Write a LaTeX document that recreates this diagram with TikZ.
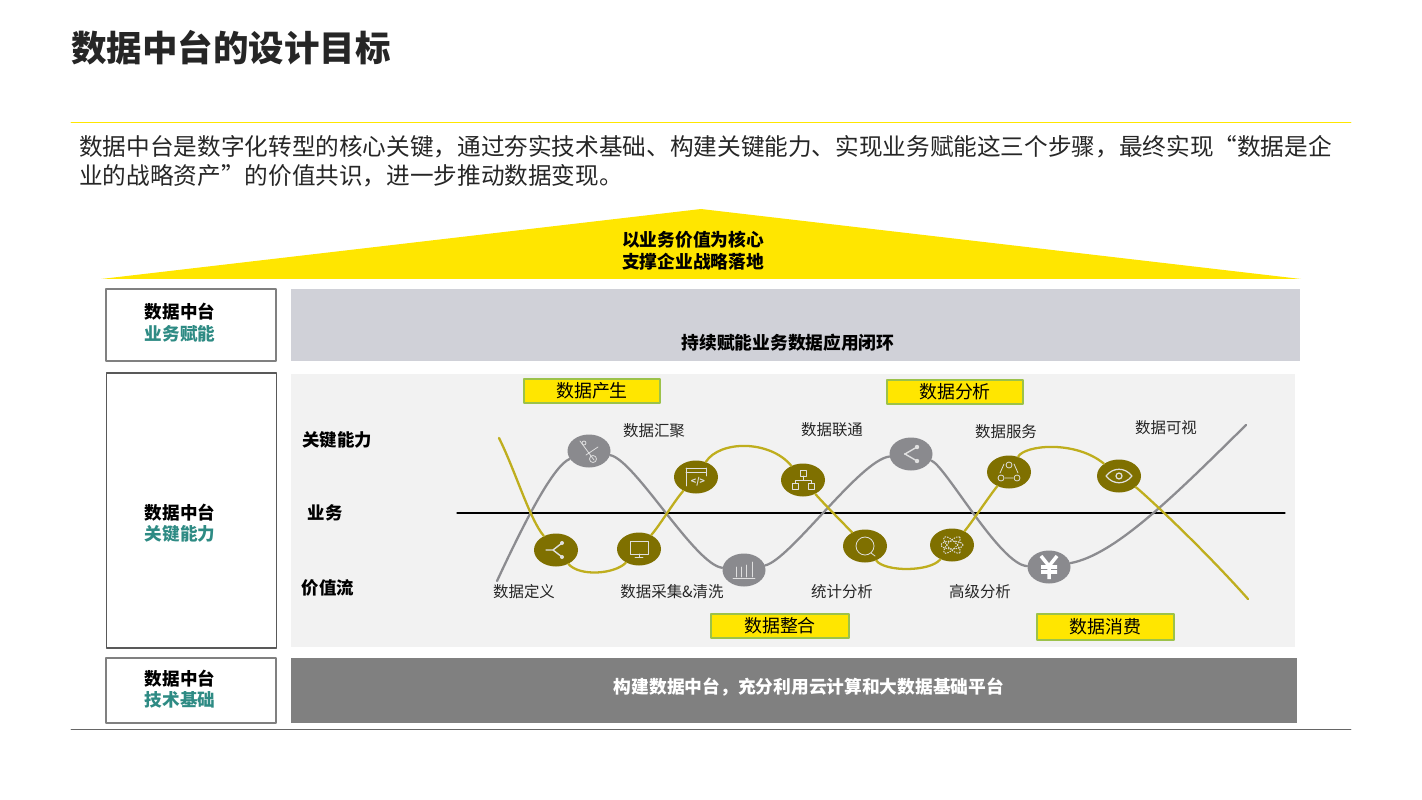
\documentclass[tikz,border=0pt]{standalone}
\usepackage{fontspec}
\setmainfont{Noto Sans CJK SC}
\usetikzlibrary{shapes.geometric}
\newcommand{\unitpx}{0.02cm}
\definecolor{eyyellow}{HTML}{FFE600}
\definecolor{tagborder}{HTML}{9CC24A}
\definecolor{olivecurve}{HTML}{BFAE1E}
\definecolor{olivedot}{HTML}{7F7000}
\definecolor{graycurve}{HTML}{8C8C90}
\definecolor{graydot}{HTML}{8A8A8E}
\definecolor{tealtext}{HTML}{2E8B84}
\definecolor{panelgray}{HTML}{D0D1D8}
\tikzset{
  sidebox/.style={draw=black!50, line width=1.1pt, fill=white, minimum width=170*\unitpx},
  sidetext/.style={align=center, inner sep=0pt, font=\fontsize{10}{12.2}\selectfont\bfseries},
  tagbox/.style={draw=tagborder, line width=0.6pt, fill=eyyellow, minimum width=136*\unitpx, minimum height=24*\unitpx, inner sep=0pt, font=\fontsize{10.2}{12}\selectfont},
  dotgray/.style={ellipse, fill=graydot, minimum width=43*\unitpx, minimum height=33*\unitpx, inner sep=0pt},
  dotolive/.style={ellipse, fill=olivedot, minimum width=44*\unitpx, minimum height=33*\unitpx, inner sep=0pt},
  steplabel/.style={inner sep=0pt, font=\fontsize{8.8}{10}\selectfont, text=black!85},
  rowlabel/.style={inner sep=0pt, font=\fontsize{9.9}{12}\selectfont\bfseries},
  bodyline/.style={anchor=west, inner sep=0pt, font=\fontsize{13.45}{16}\selectfont, text=black!85},
  ycurve/.style={draw=olivecurve, line width=1.3pt},
  gcurve/.style={draw=graycurve, line width=1.3pt},
  glyph/.style={draw=white!88!black, line width=0.45pt, line cap=round, line join=round},
}
\begin{document}
\begin{tikzpicture}[x=\unitpx, y=-\unitpx, line join=round, line cap=round]
\useasboundingbox (0,0) rectangle (1422,800);
% heading
\node (title) [anchor=west, inner sep=0pt, font=\fontsize{20.2}{24}\selectfont\bfseries, text=black!85] at (71,48) {数据中台的设计目标};
\coordinate (ruleL) at (71,122);
\coordinate (ruleR) at (1351,122);
\draw[eyyellow, line width=0.45pt] (ruleL) -- (ruleR);
\node (intro1) [bodyline] at (79,147) {数据中台是数字化转型的核心关键，通过夯实技术基础、构建关键能力、实现业务赋能这三个步骤，最终实现“数据是企};
\node (intro2) [bodyline] at (79,176) {业的战略资产”的价值共识，进一步推动数据变现。};
% roof
\fill[eyyellow] (101,279) -- (701,209) -- (1301,279) -- cycle;
\node (roof) [align=center, inner sep=0pt, font=\fontsize{10.1}{12.5}\selectfont\bfseries] at (693,251) {以业务价值为核心\\支撑企业战略落地};
% left column
\node (sideA) [sidebox, minimum height=72*\unitpx] at (191,325) {};
\node (sideB) [sidebox, line width=0.7pt, draw=black!65, minimum height=275*\unitpx] at (191.5,510.5) {};
\node (sideC) [sidebox, minimum height=65*\unitpx] at (191,690.5) {};
\node (sideAtxt) [sidetext] at (180,322.5) {数据中台\\{\color{tealtext}业务赋能}};
\node (sideBtxt) [sidetext] at (180,523) {数据中台\\{\color{tealtext}关键能力}};
\node (sideCtxt) [sidetext] at (180,689) {数据中台\\{\color{tealtext}技术基础}};
% panels
\node (panelA) [fill=panelgray, minimum width=1009*\unitpx, minimum height=72*\unitpx, inner sep=0pt] at (795.5,325) {};
\node (panelAtxt) [inner sep=0pt, font=\fontsize{10.1}{12}\selectfont\bfseries] at (788,343) {持续赋能业务数据应用闭环};
\node (panelB) [fill=black!5, minimum width=1004*\unitpx, minimum height=273*\unitpx, inner sep=0pt] at (793,510.5) {};
\node (panelC) [fill=black!50, minimum width=1006*\unitpx, minimum height=65*\unitpx, inner sep=0pt] at (794,690.5) {};
\node (panelCtxt) [inner sep=0pt, text=white, font=\fontsize{10.1}{12}\selectfont\bfseries] at (809,687) {构建数据中台，充分利用云计算和大数据基础平台};
\coordinate (baseL) at (71,729);
\coordinate (baseR) at (1351,729);
\draw[black!60, line width=0.45pt] (baseL) -- (baseR);
% row labels
\node (rowKey) [rowlabel] at (337,440) {关键能力};
\node (rowBiz) [rowlabel] at (325,513) {业务};
\node (rowVal) [rowlabel] at (328,588) {价值流};
% axis
\coordinate (axisL) at (457,513);
\coordinate (axisR) at (1285,513);
\draw[black, line width=0.6pt] (axisL) -- (axisR);
% tags
\node (tagMake) [tagbox] at (592,391) {数据产生};
\node (tagAna) [tagbox] at (955,392) {数据分析};
\node (tagJoin) [tagbox, minimum width=138*\unitpx] at (780,626) {数据整合};
\node (tagUse) [tagbox, minimum width=137*\unitpx, minimum height=26*\unitpx] at (1105.5,627) {数据消费};
% step dots
\node (gA) [dotgray] at (589,451) {};
\node (gB) [dotgray] at (744,570) {};
\node (gC) [dotgray] at (911,454) {};
\node (gD) [dotgray] at (1049,567) {};
\node (yA) [dotolive] at (556,550) {};
\node (yB) [dotolive] at (639,549) {};
\node (yC) [dotolive] at (696,477) {};
\node (yD) [dotolive] at (803,480) {};
\node (yE) [dotolive] at (865,546) {};
\node (yF) [dotolive] at (952,545) {};
\node (yG) [dotolive] at (1009,472) {};
\node (yH) [dotolive] at (1119,476) {};
\coordinate (gStart) at (497,581);
\coordinate (gEnd) at (1246,425);
\coordinate (yStart) at (499,438);
\coordinate (yEnd) at (1248,599);
% value curves
\draw[gcurve] (gStart) .. controls (530,510) and (555,465) .. (gA);
\draw[gcurve] (gA) .. controls (635,460) and (695,565) .. (gB);
\draw[gcurve] (gB) .. controls (790,560) and (860,460) .. (gC);
\draw[gcurve] (gC) .. controls (945,465) and (1000,565) .. (gD);
\draw[gcurve] (gD) .. controls (1115,555) and (1175,495) .. (gEnd);
\draw[ycurve] (yStart) .. controls (515,470) and (530,520) .. (yA);
\draw[ycurve] (yA) .. controls (580,577) and (615,574) .. (yB);
\draw[ycurve] (yB) .. controls (660,525) and (675,500) .. (yC);
\draw[ycurve] (yC) .. controls (720,440) and (770,440) .. (yD);
\draw[ycurve] (yD) .. controls (825,505) and (845,525) .. (yE);
\draw[ycurve] (yE) .. controls (885,572) and (930,572) .. (yF);
\draw[ycurve] (yF) .. controls (970,525) and (990,495) .. (yG);
\draw[ycurve] (yG) .. controls (1025,445) and (1075,440) .. (yH);
\draw[ycurve] (yH) .. controls (1140,490) and (1200,545) .. (yEnd);
% step labels
\node (lbDefine) [steplabel] at (524,592) {数据定义};
\node (lbGather) [steplabel] at (654,431) {数据汇聚};
\node (lbClean) [steplabel] at (672,592) {数据采集\&清洗};
\node (lbLink) [steplabel] at (832,430) {数据联通};
\node (lbStat) [steplabel] at (842,592) {统计分析};
\node (lbServe) [steplabel] at (1006,432) {数据服务};
\node (lbAdv) [steplabel] at (980,592) {高级分析};
\node (lbView) [steplabel] at (1166,428) {数据可视};
% icons
\begin{scope}[shift={(gA)}]
  \draw[glyph] (-9,-10) -- (5,9) (9,-4) -- (-3,4);
  \draw[glyph] (4,8) circle (3.5) (-5,-8) circle (2);
\end{scope}
\begin{scope}[shift={(gB)}]
  \draw[glyph] (-11,8) -- (11,8) (-8,7) -- (-8,-3) (-3,7) -- (-3,-3) (2,7) -- (2,-5) (8,7) -- (8,-8);
\end{scope}
\begin{scope}[shift={(gC)}]
  \draw[glyph, line width=0.8pt] (6,-7) -- (-6,0) -- (6,7);
  \fill[white!88!black] (6,-7) circle (2.2) (6,7) circle (2.2) (-6,0) circle (1.2);
\end{scope}
\begin{scope}[shift={(gD)}]
  \draw[white, line width=2pt, line cap=butt] (-8,-11) -- (0,-1) -- (8,-11) (0,-1) -- (0,12) (-8,0) -- (8,0) (-8,5) -- (8,5);
\end{scope}
\begin{scope}[shift={(yA)}]
  \draw[glyph, line width=0.8pt] (6,-7) -- (-3,0) -- (6,7) (-10,0) -- (-3,0);
  \fill[white!88!black] (6,-7) circle (2) (6,7) circle (2);
\end{scope}
\begin{scope}[shift={(yB)}]
  \draw[glyph] (-9,-8) rectangle (9,5) (-4,8) -- (4,8) (0,5) -- (0,8);
\end{scope}
\begin{scope}[shift={(yC)}]
  \draw[glyph] (-10,-9) -- (10,-9) (-10,-5) -- (10,-5) (-10,-9) -- (-10,9) (10,-9) -- (10,-1);
  \node (codeglyph) [inner sep=0pt, text=white!88!black, font=\fontsize{5}{6}\selectfont\bfseries] at (2,5) {</>};
\end{scope}
\begin{scope}[shift={(yD)}]
  \draw[glyph] (-3,-10) rectangle (3,-4) (-11,3) rectangle (-5,9) (5,3) rectangle (11,9) (0,-4) -- (0,0) (-8,3) -- (-8,0) -- (8,0) -- (8,3);
\end{scope}
\begin{scope}[shift={(yE)}]
  \draw[glyph] (0,0) circle (9) (6,7) -- (10,10);
\end{scope}
\begin{scope}[shift={(yF)}]
  \draw[glyph, densely dotted, line width=0.6pt] (0,0) ellipse (11 and 4);
  \draw[glyph, densely dotted, line width=0.6pt, rotate=45] (0,0) ellipse (11 and 4);
  \draw[glyph, densely dotted, line width=0.6pt, rotate=-45] (0,0) ellipse (11 and 4);
\end{scope}
\begin{scope}[shift={(yG)}]
  \draw[glyph] (0,-7) circle (3) (-8,6) circle (3) (8,6) circle (3);
  \draw[glyph] (-4,6) -- (4,6) (-9,1) -- (-5,-8) (9,1) -- (5,-8);
\end{scope}
\begin{scope}[shift={(yH)}]
  \draw[glyph, line width=0.7pt] (-13,0) .. controls (-6,-9) and (6,-9) .. (13,0) .. controls (6,9) and (-6,9) .. (-13,0) -- cycle;
  \draw[glyph, line width=0.7pt] (0,0) circle (3);
\end{scope}
\end{tikzpicture}
\end{document}
